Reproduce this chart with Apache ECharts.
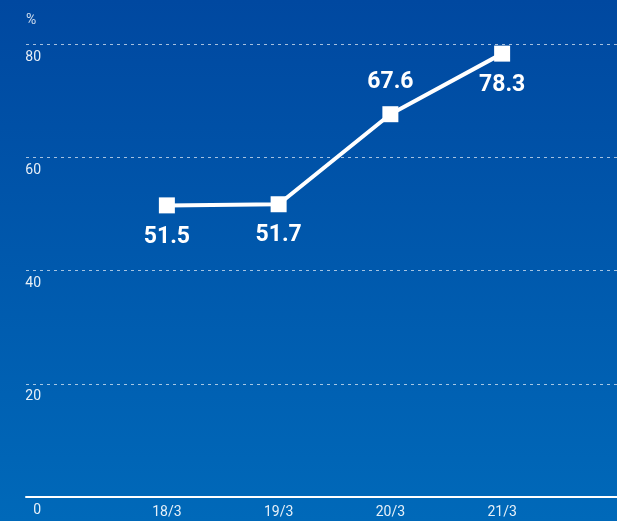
<!DOCTYPE html>
<html><head><meta charset="utf-8">
<script src="https://cdn.jsdelivr.net/npm/echarts@6/dist/echarts.min.js"></script>
<style>html,body{margin:0;padding:0;}#c{width:617px;height:521px;}</style>
</head><body><div id="c"></div>
<script>
const categories = ['18/3', '19/3', '20/3', '21/3'];
const values = [51.5, 51.7, 67.6, 78.3];
const labelPos = ['bottom', 'bottom', 'top', 'bottom'];
const yTicks = [0, 20, 40, 60, 80];
const unit = '%';

const chart = echarts.init(document.getElementById('c'), null, {renderer: 'canvas'});
const font = 'Roboto, sans-serif';
chart.setOption({
  animation: false,
  backgroundColor: new echarts.graphic.LinearGradient(0, 0, 0, 1, [
    {offset: 0, color: '#0048a0'},
    {offset: 1, color: '#0069b9'}
  ]),
  graphic: [{type: 'text', left: 26, top: 13, style: {text: unit, fill: 'rgba(255,255,255,0.8)', font: '14px Roboto, sans-serif'}}],
  grid: [
    {left: 26, right: 0, top: 44, bottom: 24},
    {left: 111, right: 59, top: 44, bottom: 24}
  ],
  xAxis: [
    {gridIndex: 0, type: 'category', data: [''], axisLine: {show: true, lineStyle: {color: '#fff', width: 2}},
     axisTick: {show: false}, axisLabel: {show: false}, splitLine: {show: false}},
    {gridIndex: 1, type: 'category', data: categories, boundaryGap: true,
     axisLine: {show: false}, axisTick: {show: false},
     axisLabel: {color: 'rgba(255,255,255,0.9)', fontFamily: font, fontSize: 14, margin: 8}}
  ],
  yAxis: [
    {gridIndex: 0, type: 'value', min: 0, max: 80, interval: 20,
     axisLine: {show: false}, axisTick: {show: false},
     axisLabel: {inside: true, align: 'right', verticalAlign: 'top', margin: 15, padding: [6, 0, 0, 0],
       color: 'rgba(255,255,255,0.9)', fontFamily: font, fontSize: 14,
       formatter: v => yTicks.includes(v) ? String(v) : ''},
     splitLine: {show: true, lineStyle: {color: 'rgba(255,255,255,0.65)', type: [3, 4], width: 1}}},
    {gridIndex: 1, type: 'value', min: 0, max: 80, interval: 20, show: false}
  ],
  series: [{
    type: 'line', xAxisIndex: 1, yAxisIndex: 1,
    data: values.map((v, i) => ({value: v, label: {position: labelPos[i]}})),
    symbol: 'rect', symbolSize: 16,
    itemStyle: {color: '#fff'},
    lineStyle: {color: '#fff', width: 4},
    label: {show: true, color: '#fff', fontFamily: font, fontWeight: 'bold', fontSize: 23, distance: 12}
  }]
});
</script></body></html>
